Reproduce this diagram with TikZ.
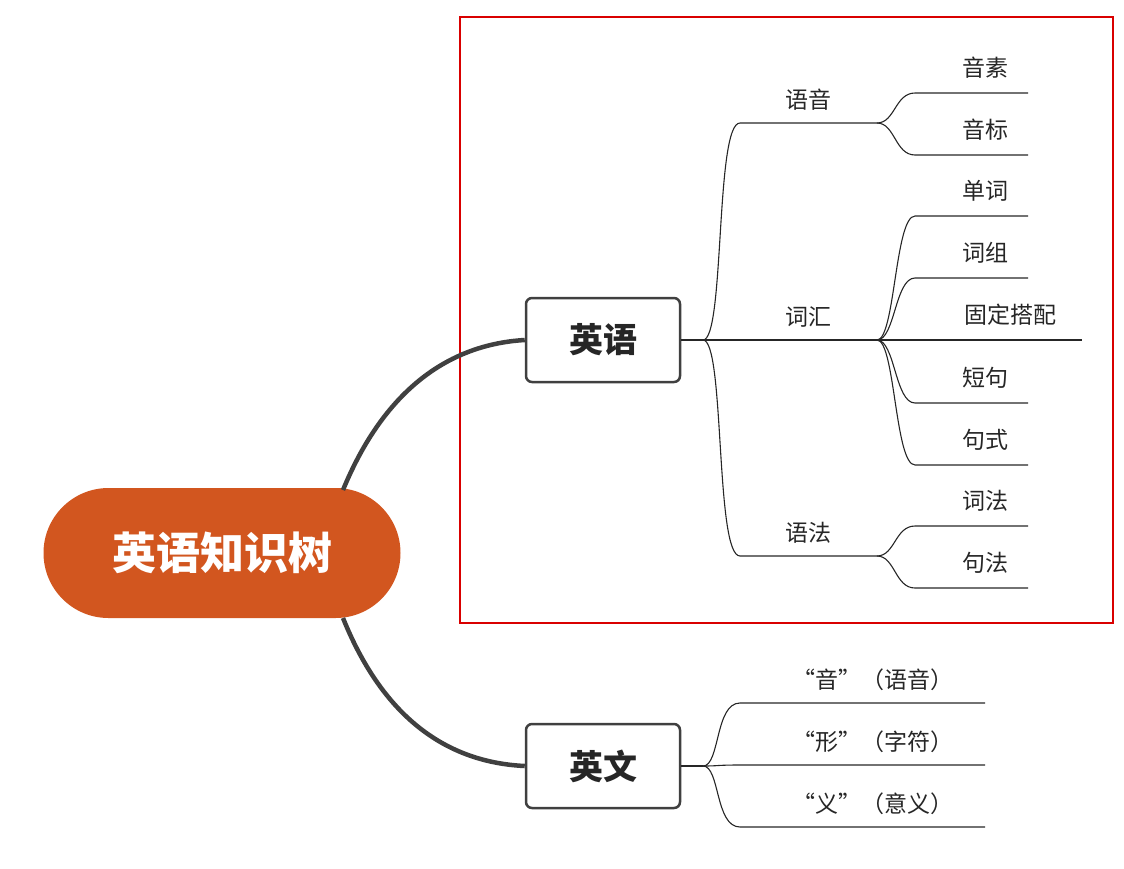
\documentclass[tikz,border=0pt]{standalone}
\usepackage{fontspec}
\setmainfont{Noto Sans CJK SC}
\begin{document}
\begin{tikzpicture}[x=1pt,y=-1pt,
  thin line/.style={draw=black!85,line width=1.1pt},
  thick line/.style={draw=black!75,line width=4.5pt},
  lbl/.style={font=\fontsize{23}{23}\selectfont,text=black!85},
  topic/.style={draw=black!75,line width=2.5pt,rounded corners=6pt,minimum width=154pt,minimum height=84pt,font=\fontsize{34}{34}\selectfont\bfseries,text=black!85}]
\useasboundingbox (0,0) rectangle (1124,868);
\definecolor{rootc}{HTML}{D2561F}
\node[fill=rootc,rounded corners=65pt,minimum width=357pt,minimum height=130pt,text=white,font=\fontsize{44}{44}\selectfont\bfseries] (root) at (222,553) {英语知识树};
\draw[red!85!black,line width=2pt] (460,17) rectangle (1113,623);
\node[topic] (ey) at (603,340) {英语};
\node[topic] (ew) at (603,766) {英文};
\draw[thick line] (343,490) .. controls (380,400) and (440,345) .. (ey.west);
\draw[thick line] (343,618) .. controls (380,710) and (440,762) .. (ew.west);
% 英语 branches
\coordinate (h1) at (703,340);
\draw[thin line] (ey.east) -- (h1);
\foreach \n/\y/\t in {a/123/语音,b/340/词汇,c/556/语法}{
  \coordinate (\n0) at (740,\y); \coordinate (\n1) at (877,\y);
  \draw[thin line] (h1) .. controls (725,340) and (715,\y) .. (\n0) -- (\n1);
  \node[lbl] (t\n) at (808,\y-23) {\t};
}
\foreach \p/\py/\y/\t in {a/123/93/音素,a/123/155/音标,b/340/216/单词,b/340/278/词组,b/340/403/短句,b/340/465/句式,c/556/526/词法,c/556/588/句法}{
  \coordinate (s\y) at (915,\y); \coordinate (e\y) at (1028,\y);
  \draw[thin line] (\p1) .. controls (895,\py) and (895,\y) .. (s\y) -- (e\y);
  \node[lbl] (l\y) at (985,\y-25) {\t};
}
\coordinate (e340) at (1082,340);
\draw[thin line] (b1) -- (e340);
\node[lbl] (l340) at (1010,315) {固定搭配};
% 英文 branches
\coordinate (h2) at (703,766);
\draw[thin line] (ew.east) -- (h2);
\foreach \y/\t in {703/“音”（语音）,765/“形”（字符）,827/“义”（意义）}{
  \coordinate (w\y) at (740,\y); \coordinate (x\y) at (985,\y);
  \draw[thin line] (h2) .. controls (720,766) and (715,\y) .. (w\y) -- (x\y);
  \node[lbl] (m\y) at (873,\y-23) {\t};
}
\end{tikzpicture}
\end{document}
